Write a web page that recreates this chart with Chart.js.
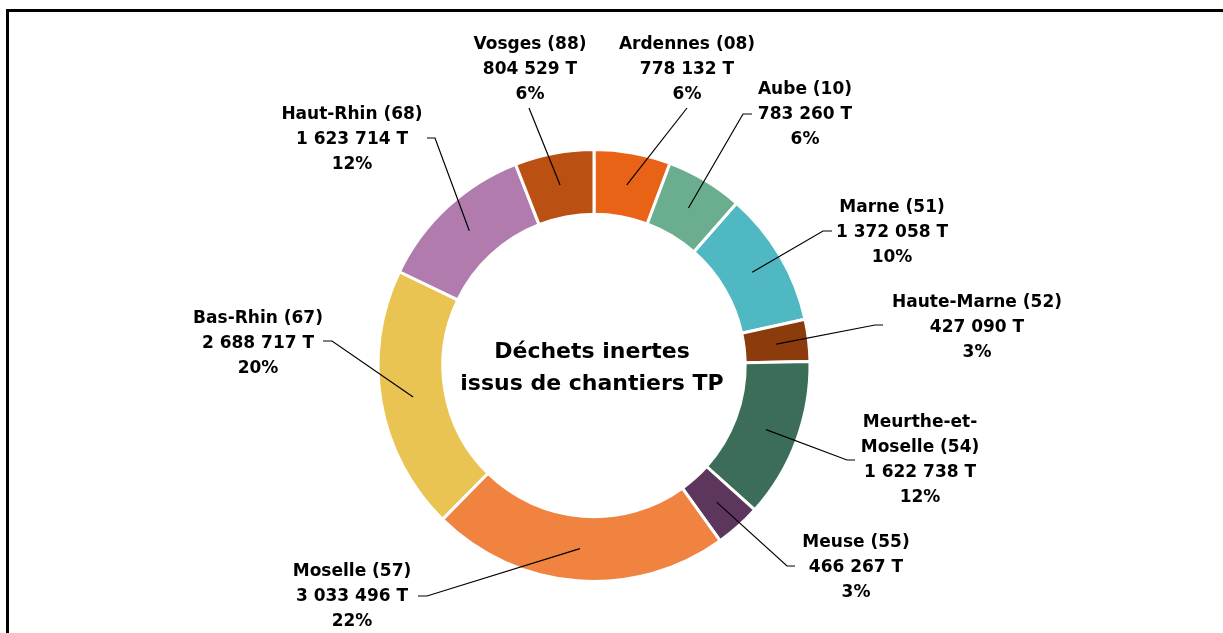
<!DOCTYPE html>
<html lang="fr">
<head>
<meta charset="utf-8">
<title>Déchets inertes issus de chantiers TP</title>
<script src="https://cdn.jsdelivr.net/npm/chart.js@4/dist/chart.umd.min.js"></script>
<style>
  html, body { margin: 0; padding: 0; background: #fff; }
  #wrap { width: 1223px; height: 633px; }
</style>
</head>
<body>
<div id="wrap"><canvas id="dechets" width="1223" height="633"></canvas></div>
<script>
// données (tonnes) - sens horaire depuis le haut
var departements = [
  'Ardennes (08)', 'Aube (10)', 'Marne (51)', 'Haute-Marne (52)',
  'Meurthe-et-Moselle (54)', 'Meuse (55)', 'Moselle (57)',
  'Bas-Rhin (67)', 'Haut-Rhin (68)', 'Vosges (88)'
];
var tonnages = [778132, 783260, 1372058, 427090, 1622738, 466267, 3033496, 2688717, 1623714, 804529];
var couleurs = [
  '#E96316', '#6BAD8F', '#50B8C3', '#8C3B0C', '#3C6D58',
  '#5C365C', '#EF833F', '#EAC453', '#B17BAE', '#BA5011'
];
var titreCentre = ['Déchets inertes', 'issus de chantiers TP'];

// placement des étiquettes, relatif au centre de l'anneau
// t = centre du texte (1re ligne), e = coude du trait, k = petit trait horizontal
var placement = [
  { t: [93, -320.5], e: [93, -257.5], k: 0 },
  { t: [211, -275.5], e: [149, -251.5], k: 9 },
  { t: [298, -157.5], e: [229, -134.5], k: 9 },
  { t: [383, -62.5], e: [281, -40.5], k: 8 },
  { t: [326, 57.5], e: [253, 94.5], k: 8, wrap: true },
  { t: [262, 177.5], e: [193, 200.5], k: 8 },
  { t: [-242, 206.5], e: [-167, 230.5], k: -9 },
  { t: [-336, -46.5], e: [-262, -24.5], k: -9 },
  { t: [-242, -250.5], e: [-159, -227.5], k: -8 },
  { t: [-64, -320.5], e: [-65, -257.5], k: 0 }
];

function milliers(n) {
  return String(n).replace(/\B(?=(\d{3})+(?!\d))/g, ' ');
}

var total = tonnages.reduce(function (a, b) { return a + b; }, 0);

var cadre = {
  id: 'cadre',
  beforeDraw: function (chart) {
    var c = chart.ctx;
    c.save();
    c.strokeStyle = '#000';
    c.lineWidth = 3;
    c.beginPath();
    c.moveTo(7.5, 640);
    c.lineTo(7.5, 10.5);
    c.lineTo(1230, 10.5);
    c.stroke();
    c.restore();
  }
};

var etiquettes = {
  id: 'etiquettes',
  afterDraw: function (chart) {
    var c = chart.ctx;
    var arcs = chart.getDatasetMeta(0).data;
    var cx = arcs[0].x, cy = arcs[0].y;
    c.save();
    c.fillStyle = '#000';
    c.textAlign = 'center';
    c.textBaseline = 'middle';

    c.font = 'bold 22px "DejaVu Sans"';
    c.fillText(titreCentre[0], cx - 2, cy - 13);
    c.fillText(titreCentre[1], cx - 2, cy + 19);

    c.font = 'bold 17px "DejaVu Sans"';
    arcs.forEach(function (arc, i) {
      var p = placement[i];
      var a = (arc.startAngle + arc.endAngle) / 2;
      var r = (arc.innerRadius + arc.outerRadius) / 2;
      var ax = cx + Math.cos(a) * r, ay = cy + Math.sin(a) * r;
      var ex = cx + p.e[0], ey = cy + p.e[1];

      c.strokeStyle = '#000';
      c.lineWidth = 1.2;
      c.beginPath();
      c.moveTo(ax, ay);
      c.lineTo(ex, ey);
      if (p.k) c.lineTo(ex + p.k, ey);
      c.stroke();

      var nom = departements[i];
      var lignes = p.wrap ? nom.replace('et-', 'et-\n').split('\n') : [nom];
      lignes.push(milliers(tonnages[i]) + ' T');
      lignes.push(Math.round(tonnages[i] / total * 100) + '%');
      lignes.forEach(function (l, j) {
        c.fillText(l, cx + p.t[0], cy + p.t[1] + j * 24.7);
      });
    });
    c.restore();
  }
};

var ctx = document.getElementById('dechets').getContext('2d');
var myChart = new Chart(ctx, {
  type: 'doughnut',
  data: {
    labels: departements,
    datasets: [{
      data: tonnages,
      backgroundColor: couleurs,
      borderColor: '#fff',
      borderWidth: 3
    }]
  },
  options: {
    responsive: false,
    animation: false,
    cutout: '70%',
    layout: { padding: { top: 148, bottom: 50, left: 0, right: 35 } },
    plugins: {
      legend: { display: false },
      tooltip: { enabled: false },
      title: { display: false }
    }
  },
  plugins: [cadre, etiquettes]
});
</script>
</body>
</html>
